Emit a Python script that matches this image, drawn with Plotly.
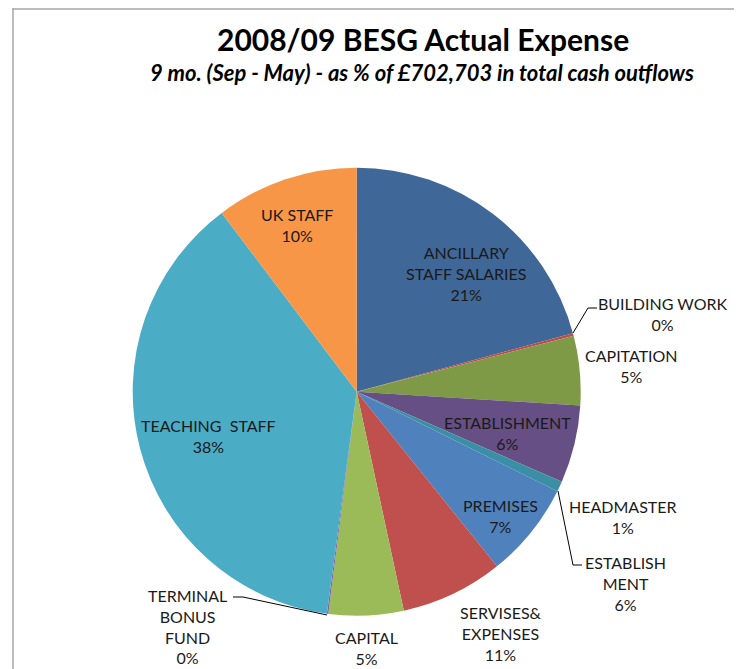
import plotly.graph_objects as go

# the page puts the figure 8px in from the top-left, so the figure is
# made 8px smaller and every position below is in window pixels
W, H = 742, 669
OFF = 8
FIG_W, FIG_H = W - OFF, H - OFF

# slices, clockwise from 12 o'clock (share of total cash outflows, %)
categories = [
    "ANCILLARY STAFF SALARIES", "BUILDING WORK", "CAPITATION", "ESTABLISHMENT",
    "HEADMASTER", "PREMISES", "SERVISES& EXPENSES", "CAPITAL",
    "TERMINAL BONUS FUND", "TEACHING STAFF", "UK STAFF",
]
shares = [20.8, 0.2, 5.0, 5.6, 0.75, 6.9, 7.4, 5.4, 0.1, 37.6, 10.3]
slice_colors = [
    "#3F6797", "#BE4B48", "#7E9A47", "#664F84", "#3A8FA5", "#4F81BD",
    "#C0504D", "#9BBB59", "#8064A2", "#4BACC6", "#F79646",
]

# data labels as printed on the chart
label_text = [
    "ANCILLARY<br>STAFF SALARIES<br>21%", "BUILDING WORK<br>0%", "CAPITATION<br>5%",
    "ESTABLISHMENT<br>6%", "HEADMASTER<br>1%", "ESTABLISH<br>MENT<br>6%",
    "PREMISES<br>7%", "SERVISES&<br>EXPENSES<br>11%", "CAPITAL<br>5%",
    "TERMINAL<br>BONUS<br>FUND<br>0%", "TEACHING  STAFF<br>38%", "UK STAFF<br>10%",
]
label_xy = [
    (466, 274), (662, 314), (631, 366), (507, 433), (623, 517), (625, 583),
    (500, 516), (501, 633), (366, 648), (187, 626), (208, 436), (297, 225),
]

FONT = "Lato"
GRID = "#A6A6A6"


def px(x):
    return (x - OFF) / FIG_W


def py(y):
    return 1 - (y - OFF) / FIG_H


fig = go.Figure(go.Pie(
    labels=categories,
    values=shares,
    sort=False,
    direction="clockwise",
    rotation=0,
    marker=dict(colors=slice_colors, line=dict(width=0)),
    textinfo="none",
    hovertemplate="%{label}<br>%{percent}<extra></extra>",
    domain=dict(x=[px(132.7), px(580.7)], y=[py(615.7), py(167.7)]),
    showlegend=False,
))

annotations = [
    dict(text="<b>2008/09 BESG Actual Expense</b>", x=px(423), y=py(39),
         font=dict(size=30, color="black")),
    dict(text="<b><i>9 mo. (Sep - May) - as % of £702,703 in total cash outflows</i></b>",
         x=px(422), y=py(73), font=dict(size=22, color="black")),
]
for txt, (x, y) in zip(label_text, label_xy):
    annotations.append(dict(text=txt, x=px(x), y=py(y), font=dict(size=16, color="#1a1a1a")))
for a in annotations:
    a.update(xref="paper", yref="paper", showarrow=False, xanchor="center", yanchor="middle")

# leader lines for the thin slices
leaders = [
    [(573, 333), (588, 308), (597, 308)],
    [(558, 491), (573, 565), (582, 565)],
    [(327, 615), (243, 597), (233, 597)],
]
shapes = []
for pts in leaders:
    path = "M " + " L ".join(f"{px(x)},{py(y)}" for x, y in pts)
    shapes.append(dict(type="path", path=path, xref="paper", yref="paper",
                       line=dict(color="black", width=1)))

# sheet frame lines
frame = [
    [(13, 8), (13, H)],
    [(13, 9), (739, 9)],
    [(739, 9), (739, H)],
]
for pts in frame:
    path = "M " + " L ".join(f"{px(x)},{py(y)}" for x, y in pts)
    shapes.append(dict(type="path", path=path, xref="paper", yref="paper",
                       line=dict(color=GRID, width=1.5)))

fig.update_layout(
    width=FIG_W,
    height=FIG_H,
    margin=dict(l=0, r=0, t=0, b=0),
    paper_bgcolor="white",
    plot_bgcolor="white",
    font=dict(family=FONT),
    annotations=annotations,
    shapes=shapes,
)

fig.write_html("out.html")
